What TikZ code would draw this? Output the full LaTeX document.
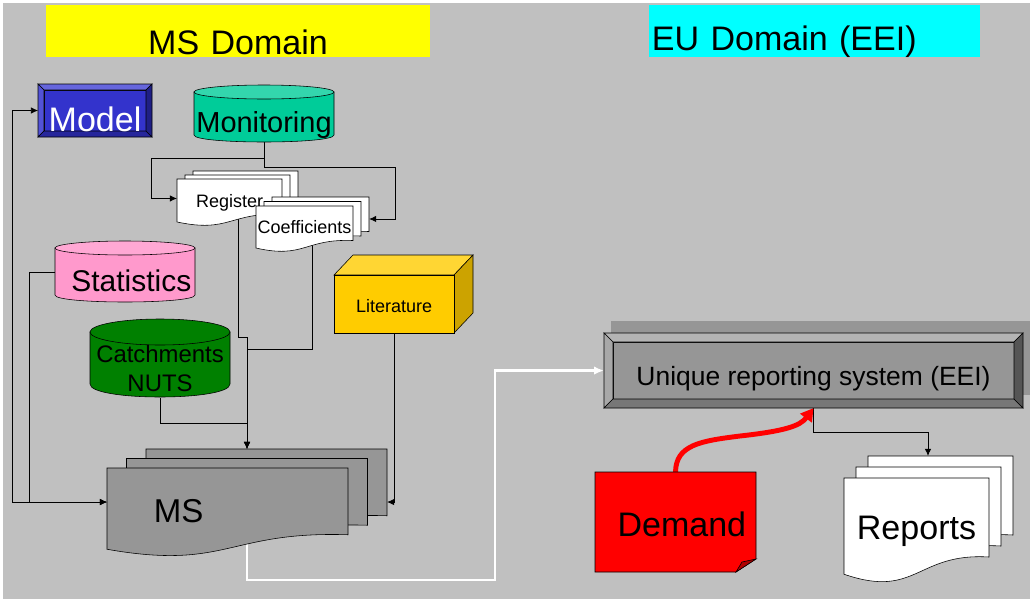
\documentclass[tikz,border=0pt]{standalone}
\usepackage{fontspec}
\setmainfont{Liberation Sans}
\usetikzlibrary{positioning,calc,arrows.meta}

\definecolor{bggray}{HTML}{C0C0C0}
\definecolor{msyellow}{HTML}{FFFF00}
\definecolor{eucyan}{HTML}{00FFFF}
\definecolor{pagegray}{HTML}{969696}
\definecolor{mdlface}{HTML}{3333CC}
\definecolor{mdltop}{HTML}{6666DD}
\definecolor{mdlleft}{HTML}{5252D6}
\definecolor{mdlbottom}{HTML}{26269C}
\definecolor{mdlright}{HTML}{1F1F85}
\definecolor{ursface}{HTML}{969696}
\definecolor{urstop}{HTML}{B4B4B4}
\definecolor{ursleft}{HTML}{A8A8A8}
\definecolor{ursbottom}{HTML}{777777}
\definecolor{ursright}{HTML}{555555}
\definecolor{monbody}{HTML}{00CC99}
\definecolor{montop}{HTML}{33D6AD}
\definecolor{statbody}{HTML}{FF99CC}
\definecolor{stattop}{HTML}{FFA8D4}
\definecolor{catchbody}{HTML}{008000}
\definecolor{littop}{HTML}{FFD633}
\definecolor{litfront}{HTML}{FFCC00}
\definecolor{litside}{HTML}{CCA300}
\definecolor{demred}{HTML}{FF0000}
\definecolor{demfold}{HTML}{B00000}

\pgfdeclarelayer{bg}
\pgfdeclarelayer{wires}
\pgfsetlayers{bg,wires,main}

% one page of a paper stack, wavy bottom edge
\newcommand{\docpage}[5]{%
  \filldraw[fill=#5] ({#1},{#2}) -- ({#1+#3},{#2}) -- ({#1+#3},{#2+0.767*#4})
    .. controls ({#1+0.5*#3},{#2+0.723*#4}) and ({#1+0.5*#3},{#2+1.178*#4})
    .. ({#1},{#2+0.934*#4}) -- cycle;}
\newcommand{\docstack}[7]{%
  \foreach \i in {2,1,0} {\docpage{#1+\i*#5}{#2-\i*#6}{#3}{#4}{#7}}}
% drum: x0, x1, top rim, bottom rim, end radius, body, top
\newcommand{\drum}[7]{%
  \filldraw[fill=#6] ({#1},{#3}) -- ({#1},{#4})
    .. controls ({#1},{#4+1.333*#5}) and ({#2},{#4+1.333*#5}) .. ({#2},{#4}) -- ({#2},{#3}) -- cycle;
  \filldraw[fill=#7] ({(#1+#2)/2},{#3}) ellipse [x radius={(#2-#1)/2}, y radius=#5];}
% raised box: x0, y0, x1, y1, bevel, colour prefix
\newcommand{\bevelbox}[6]{%
  \filldraw[fill=#6face] ({#1+#5},{#2+#5}) rectangle ({#3-#5},{#4-#5});
  \filldraw[fill=#6top] ({#1},{#2}) -- ({#3},{#2}) -- ({#3-#5},{#2+#5}) -- ({#1+#5},{#2+#5}) -- cycle;
  \filldraw[fill=#6left] ({#1},{#2}) -- ({#1+#5},{#2+#5}) -- ({#1+#5},{#4-#5}) -- ({#1},{#4}) -- cycle;
  \filldraw[fill=#6bottom] ({#1},{#4}) -- ({#1+#5},{#4-#5}) -- ({#3-#5},{#4-#5}) -- ({#3},{#4}) -- cycle;
  \filldraw[fill=#6right] ({#3},{#2}) -- ({#3},{#4}) -- ({#3-#5},{#4-#5}) -- ({#3-#5},{#2+#5}) -- cycle;}

\begin{document}
\begin{tikzpicture}[x=0.025cm,y=-0.025cm,line width=0.6pt,
  box/.style={inner sep=0pt,outer sep=0pt,anchor=north west},
  wire/.style={line width=0.6pt,-{Latex[length=5pt,width=4.5pt]}},
  fbig/.style={font=\fontsize{24.2}{29}\selectfont},
  fsmall/.style={font=\fontsize{12.8}{15}\selectfont}]
  \useasboundingbox (0,0) rectangle (1030,599);
  \begin{pgfonlayer}{bg}
    \fill[bggray] (3,3) rectangle (1030,599);
  \end{pgfonlayer}

  % headers
  \node[box,fill=msyellow,text width=273.1pt,align=center,text height=34.9pt,text depth=2.1pt,fbig] (msdom) at (46,5) {MS Domain};
  \node[box,fill=eucyan,inner xsep=2.1pt,text width=231.2pt,align=left,text height=32pt,text depth=5pt,fbig] (eudom) at (649,5) {EU Domain (EEI)};

  % MS side
  \bevelbox{38}{84}{152}{137}{6}{mdl}
  \node[box,minimum width=81.1pt,text height=34.1pt,text depth=3.6pt,text=white,fbig] (model) at (38,84) {Model};

  \drum{194}{334}{92}{135}{7}{monbody}{montop}
  \node[box,minimum width=99.6pt,text height=34.1pt,text depth=6.4pt,font=\fontsize{20.6}{24}\selectfont] (mon) at (194,85) {Monitoring};

  \docstack{177}{179}{105}{46}{8}{4}{white}
  \node[box,minimum width=74.7pt,text height=20.6pt,text depth=7.1pt,fsmall] (reg) at (177,179) {Register};
  \docstack{256}{206}{97}{45}{8}{4.5}{white}
  \node[box,minimum width=69pt,text height=19.9pt,text depth=7.1pt,fsmall] (coef) at (256,206) {Coefficients};

  \drum{55}{195}{248}{295}{7}{statbody}{stattop}
  \node[box,minimum width=99.6pt,text height=34.9pt,text depth=7.8pt,font=\fontsize{21.3}{25}\selectfont] (stat) at (55,242) {\hspace*{9pt}Statistics};

  \drum{90}{230}{332}{384}{13}{catchbody}{catchbody}
  \node[box,minimum width=99.6pt,text height=51.9pt,text depth=4.3pt,align=center,font=\fontsize{17}{21.3}\selectfont] (catch) at (90,319) {Catchments\\NUTS};

  \filldraw[fill=littop] (334,275) -- (353,255) -- (473,255) -- (454,275) -- cycle;
  \filldraw[fill=litside] (454,275) -- (473,255) -- (473,313) -- (454,333) -- cycle;
  \node[box,draw,fill=litfront,minimum width=85.4pt,text height=27pt,text depth=14.2pt,fsmall] (lit) at (334,275) {Literature};

  \docstack{107}{468}{241}{87}{19.5}{9.5}{pagegray}
  \node[box,inner xsep=33.4pt,text width=104.6pt,align=left,text height=38.4pt,text depth=10pt,font=\fontsize{23.5}{28}\selectfont] (ms) at (107,468) {MS};

  % EU side
  \fill[pagegray] (611,321) rectangle (1030,395);
  \bevelbox{604}{333}{1023}{408}{9}{urs}
  \node[box,minimum width=298pt,text height=37pt,text depth=16.4pt,font=\fontsize{18.8}{22}\selectfont] (urs) at (604,333) {Unique reporting system (EEI)};

  \filldraw[fill=demred] (595,472) -- (756,472) -- (756,559) -- (736,572) -- (595,572) -- cycle;
  \filldraw[fill=demfold] (736,572) -- (742,562) -- (756,559) -- cycle;
  \node[box,minimum width=114.5pt,text height=46.2pt,text depth=24.9pt,fbig] (dem) at (595,472) {\hspace*{9pt}Demand};

  \docstack{844}{478}{145}{103}{12}{11}{white}
  \node[box,minimum width=103.1pt,text height=43.4pt,text depth=14.2pt,fbig] (rep) at (844,478) {Reports};

  % connectors
  \begin{pgfonlayer}{wires}
    \draw[{Latex[length=5pt,width=4.5pt]}-{Latex[length=5pt,width=4.5pt]}] (model.west) -- ++(-26,0) |- (ms.west);
    \draw[wire] (stat.west) -- ++(-26,0) |- (ms.west);
    \draw[wire] (mon.south) -- ++(0,16) -- ++(-113,0) |- (reg.west);
    \draw[wire] (mon.south) -- ++(0,25) -- ++(131,0) |- ($(coef.east)+(16,-6)$);
    \draw[wire] ($(reg.south)+(8.5,0)$) -- ++(0,119) -| ($(ms.north)+(19.5,-19)$);
    \draw[wire] ($(coef.south)+(7.5,0)$) -- ++(0,105) -| ($(ms.north)+(19.5,-19)$);
    \draw[wire] (catch.south) -- ++(0,25) -| ($(ms.north)+(19.5,-19)$);
    \draw[wire] (lit.south) |- ($(ms.east)+(39,0)$);
    \draw[white,line width=1.5pt,-{Latex[length=7pt,width=6pt]}] ($(ms.south)+(19.5,0)$) -- ++(0,44) -- ++(248,0) |- (urs.west);
    \draw[wire] (urs.south) -- ++(0,24) -| ($(rep.north)+(11.5,-22)$);
    \draw[demred,line width=3.5pt,-{Triangle[length=9pt,width=10pt]}] (dem.north) .. controls (676,445) and (700,441) .. (740,436) .. controls (785,431) and (800,426) .. (urs.south);
  \end{pgfonlayer}
\end{tikzpicture}
\end{document}
